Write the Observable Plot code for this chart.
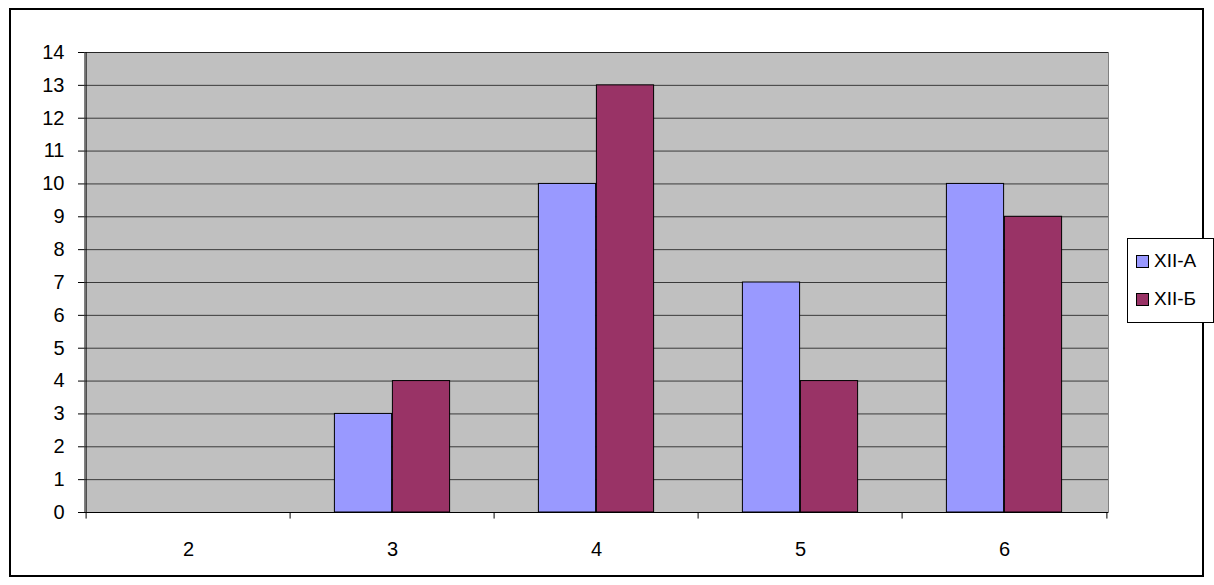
<!DOCTYPE html>
<html><head><meta charset="utf-8">
<script src="https://cdn.jsdelivr.net/npm/d3@7"></script>
<script src="https://cdn.jsdelivr.net/npm/@observablehq/plot@0.6"></script>
<style>
body{margin:0;background:#fff;font-family:"Liberation Sans",Arial,sans-serif}
#wrap{position:relative;width:1214px;height:585px}
#border{position:absolute;left:9px;top:8px;width:1195px;height:569px;border:2px solid #000;box-sizing:border-box}
#legend{position:absolute;left:1127px;top:238px;width:87px;height:85px;border:1.5px solid #000;box-sizing:border-box;background:#fff;font-size:19px}
.it{position:absolute;left:8px;display:flex;align-items:center}
.sw{width:11px;height:11px;border:1px solid #000;margin-right:5px}
</style></head>
<body><div id="wrap"><div id="border"></div><div id="chart"></div>
<div id="legend"><div class="it" style="top:11px"><span class="sw" style="background:#9999FF"></span>XII-A</div>
<div class="it" style="top:49px"><span class="sw" style="background:#993366"></span>XII-Б</div></div></div>
<script>
const grades = ["2","3","4","5","6"];
const seriesA = [0,3,10,7,10];
const seriesB = [0,4,13,4,9];
const dataA = grades.map((g,i)=>({g, v: seriesA[i]}));
const dataB = grades.map((g,i)=>({g, v: seriesB[i]}));
const half = 1024/5/2;
let chart = Plot.plot({
  width: 1214, height: 585,
  marginLeft: 84, marginRight: 106, marginTop: 52, marginBottom: 73,
  style: {fontFamily: '"Liberation Sans",Arial,sans-serif', background: "transparent", color: "#000", overflow: "visible"},
  x: {domain: grades, padding: 0},
  y: {domain: [0,14]},
  marks: [
    Plot.frame({fill: "#C0C0C0", stroke: "#808080"}),
    Plot.gridY(d3.range(1,15), {stroke: "#000", strokeOpacity: 0.7, strokeWidth: 1}),
    Plot.barY(dataA.filter(d=>d.v>0), {x: "g", y: "v", fill: "#9999FF", stroke: "#000", insetLeft: half-58, insetRight: half}),
    Plot.barY(dataB.filter(d=>d.v>0), {x: "g", y: "v", fill: "#993366", stroke: "#000", insetLeft: half, insetRight: half-58}),
    Plot.axisY(d3.range(0,15), {fontSize: 20, tickSize: 6, tickPadding: 14, label: null}),
    Plot.axisX({fontSize: 20, tickSize: 0, tickPadding: 29, label: null}),
    Plot.ruleY([0], {stroke: "#000"}),
    Plot.ruleX([0], {x: () => grades[0], dx: -half, y1: 0, y2: 14, stroke: "#000"}),
    Plot.ruleX(grades, {x: d => d, dx: -half, y1: 0, y2: -0.2, stroke: "#000"}),
    Plot.ruleX([grades[4]], {x: d => d, dx: half, y1: 0, y2: -0.2, stroke: "#000"})
  ]
});
chart.style.position = "absolute"; chart.style.left = "0"; chart.style.top = "0";
d3.select("#chart").append(() => chart);
</script></body></html>
